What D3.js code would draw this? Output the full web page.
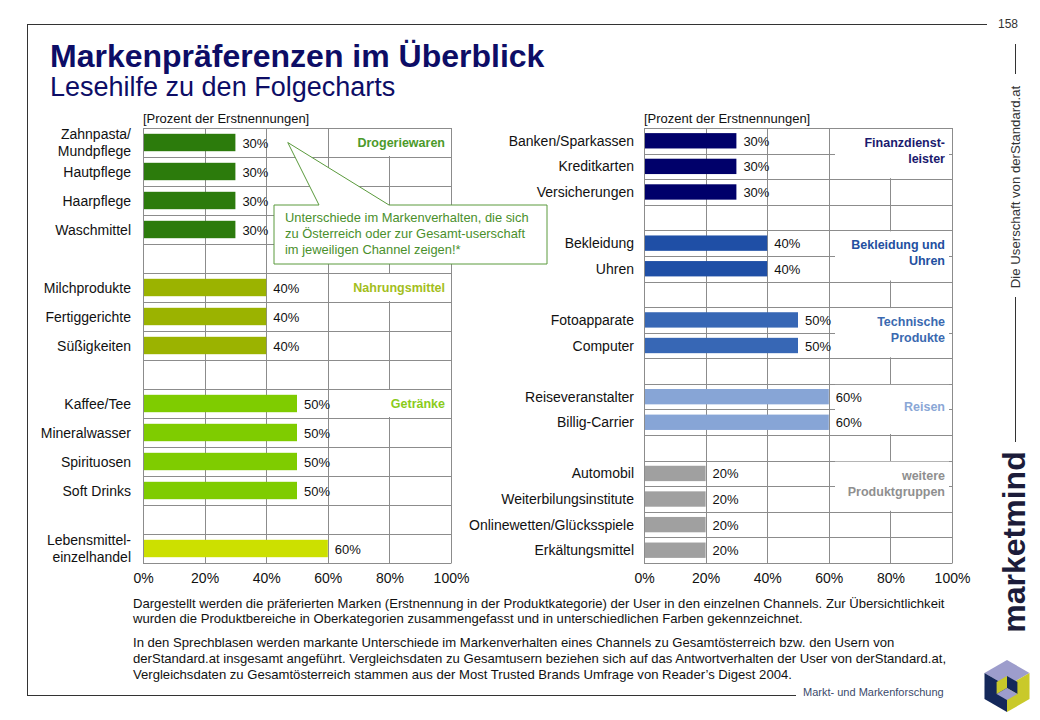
<!DOCTYPE html>
<html><head><meta charset="utf-8">
<script src="https://cdn.jsdelivr.net/npm/d3@7"></script>
<style>body{margin:0;background:#fff} svg{display:block;font-family:Arial,"Liberation Sans",sans-serif}</style>
</head><body>
<svg id="c" width="1040" height="720"></svg>
<script>
// ---------- DATA ----------
const axisTicks = [0, 20, 40, 60, 80, 100];
const unitLabel = "[Prozent der Erstnennungen]";

const leftCategories = ["Zahnpasta/|Mundpflege","Hautpflege","Haarpflege","Waschmittel","_gap1",
  "Milchprodukte","Fertiggerichte","Süßigkeiten","_gap2",
  "Kaffee/Tee","Mineralwasser","Spirituosen","Soft Drinks","_gap3","Lebensmittel-|einzelhandel"];
const leftValues = [30,30,30,30,null,40,40,40,null,50,50,50,50,null,60];
const leftRowGroup = ["drog","drog","drog","drog",null,"nahr","nahr","nahr",null,"getr","getr","getr","getr",null,"leh"];
const leftGroupNames = ["drog","nahr","getr"];
const leftGroupTitles = [["Drogeriewaren"],["Nahrungsmittel"],["Getränke"]];

const rightCategories = ["Banken/Sparkassen","Kreditkarten","Versicherungen","_gap1",
  "Bekleidung","Uhren","_gap2","Fotoapparate","Computer","_gap3",
  "Reiseveranstalter","Billig-Carrier","_gap4",
  "Automobil","Weiterbilungsinstitute","Onlinewetten/Glücksspiele","Erkältungsmittel"];
const rightValues = [30,30,30,null,40,40,null,50,50,null,60,60,null,20,20,20,20];
const rightRowGroup = ["fin","fin","fin",null,"bek","bek",null,"tech","tech",null,"reis","reis",null,"weit","weit","weit","weit"];
const rightGroupNames = ["fin","bek","tech","reis","weit"];
const rightGroupTitles = [["Finanzdienst-","leister"],["Bekleidung und","Uhren"],["Technische","Produkte"],["Reisen"],["weitere","Produktgruppen"]];

const calloutLines = ["Unterschiede im Markenverhalten,  die sich","zu Österreich oder zur Gesamt-userschaft","im jeweiligen Channel  zeigen!*"];
const footerLines = [
  "Dargestellt werden die präferierten Marken  (Erstnennung in der Produktkategorie) der User in den einzelnen  Channels.  Zur Übersichtlichkeit",
  "wurden die Produktbereiche in Oberkategorien zusammengefasst und in unterschiedlichen Farben gekennzeichnet.",
  "In den Sprechblasen werden markante Unterschiede im Markenverhalten  eines Channels zu Gesamtösterreich bzw. den Usern von",
  "derStandard.at insgesamt angeführt. Vergleichsdaten zu Gesamtusern beziehen sich auf das Antwortverhalten der User von derStandard.at,",
  "Vergleichsdaten zu Gesamtösterreich stammen aus der Most Trusted Brands Umfrage von Reader’s Digest 2004."
];

// ---------- STYLE ----------
const barColor = {drog:"#2c7b0c", nahr:"#9bb300", getr:"#7fcc00", leh:"#cce000",
  fin:"#00006a", bek:"#1f4fa6", tech:"#3767b5", reis:"#87a5d6", weit:"#a0a0a0"};
const labelColor = {drog:"#4c9a2a", nahr:"#a3be1c", getr:"#8acb1a",
  fin:"#1a1a6e", bek:"#234fa0", tech:"#3a69b0", reis:"#8aa7d6", weit:"#8f8f8f"};
const gridColor = "#8c8c8c";

const svg = d3.select("#c");

// frame & header
svg.append("line").attr("x1",27).attr("x2",987).attr("y1",24.5).attr("y2",24.5).attr("stroke","#333");
svg.append("line").attr("x1",27.5).attr("x2",27.5).attr("y1",24).attr("y2",695).attr("stroke","#333");
svg.append("line").attr("x1",27).attr("x2",796).attr("y1",695.5).attr("y2",695.5).attr("stroke","#333");
svg.append("text").attr("x",1008).attr("y",28).attr("text-anchor","middle").attr("font-size",12).attr("fill","#333").text("158");
svg.append("line").attr("x1",1015.5).attr("x2",1015.5).attr("y1",44).attr("y2",74).attr("stroke","#333");
svg.append("line").attr("x1",1015.5).attr("x2",1015.5).attr("y1",297).attr("y2",442).attr("stroke","#333");
svg.append("text").attr("transform","translate(1020,187) rotate(-90)").attr("text-anchor","middle")
  .attr("font-size",13.2).attr("fill","#333").text("Die Userschaft von derStandard.at");
svg.append("text").attr("transform","translate(1025,542) rotate(-90)").attr("text-anchor","middle")
  .attr("font-size",32).attr("font-weight","bold").attr("fill","#1c1c3a").text("marketmind");
svg.append("text").attr("x",803).attr("y",696).attr("font-size",11).attr("fill","#3b4a6b").text("Markt- und Markenforschung");

// logo
(function(){
  const cx=1007, cy=686, R=26, r=12;
  const P=(a,rr,dy=0)=>[cx+rr*Math.cos(a*Math.PI/180), cy+dy+rr*Math.sin(a*Math.PI/180)];
  const T=P(-90,R),UR=P(-30,R),LR=P(30,R),B=P(90,R),LL=P(150,R),UL=P(210,R),C=[cx,cy];
  const poly=(pts,f)=>svg.append("polygon").attr("points",pts.map(p=>p.join(",")).join(" ")).attr("fill",f);
  poly([T,UR,C,UL],"#9d9dcc");
  poly([UL,C,B,LL],"#14285a");
  poly([C,UR,LR,B],"#c9c92a");
  const t=P(-90,r,2),ur=P(-30,r,2),lr=P(30,r,2),b=P(90,r,2),ll=P(150,r,2),ul=P(210,r,2),c=[cx,cy+2];
  poly([c,t,ul,ll],"#c9c92a");
  poly([c,t,ur,lr],"#14285a");
  poly([c,ll,b,lr],"#9d9dcc");
})();

// titles
svg.append("text").attr("x",50).attr("y",67).attr("font-size",32).attr("font-weight","bold").attr("fill","#0d0d66").text("Markenpräferenzen im Überblick");
svg.append("text").attr("x",50).attr("y",96).attr("font-size",27).attr("fill","#0d0d66").text("Lesehilfe zu den Folgecharts");

// ---------- CHART FUNCTION ----------
function drawChart(opts){
  const {x0,x1,top,bottom,cats,vals,groups,gNames,gTitles,gSpan,labelRight,boxX0,boxX1} = opts;
  const g = svg.append("g");
  const x = d3.scaleLinear().domain([0,100]).range([x0,x1]);
  const y = d3.scaleBand().domain(cats).range([top,bottom]).paddingInner(0.4).paddingOuter(0.2);
  const step = y.step();
  const rowTop = c => y(c) - step*0.2;

  g.append("text").attr("x",x0).attr("y",top-5).attr("font-size",13).attr("fill","#111").text(unitLabel);

  // grid
  const hk = d3.range(cats.length+1);
  g.selectAll(".hg").data(hk).join("line")
    .attr("x1",x0).attr("x2",x1).attr("y1",k=>Math.round(top+k*step)+0.5).attr("y2",k=>Math.round(top+k*step)+0.5)
    .attr("stroke",gridColor);
  g.selectAll(".vg").data(axisTicks).join("line")
    .attr("x1",d=>Math.round(x(d))+0.5).attr("x2",d=>Math.round(x(d))+0.5).attr("y1",top).attr("y2",bottom)
    .attr("stroke",gridColor);

  // group label boxes + labels
  gNames.forEach((gn,i)=>{
    const first = cats[groups.indexOf(gn)];
    const span = gSpan;
    const yy0 = rowTop(first);
    const h = step*span;
    g.append("rect").attr("x",boxX0).attr("y",yy0+1).attr("width",boxX1-boxX0).attr("height",h-2).attr("fill","#fff");
    const lines = gTitles[i];
    const cyy = yy0 + h/2 - (span===2?3:0);
    lines.forEach((ln,j)=>{
      g.append("text").attr("x",boxX1-4).attr("y",cyy + (j-(lines.length-1)/2)*16 + 4.5)
        .attr("text-anchor","end").attr("font-size",12.5).attr("font-weight","bold")
        .attr("fill",labelColor[gn]).text(ln);
    });
  });

  // bars
  const rows = cats.map((c,i)=>({c, v:vals[i], gr:groups[i]})).filter(d=>d.v!=null);
  g.selectAll(".bar").data(rows).join("rect")
    .attr("x",x(0)).attr("y",d=>y(d.c)).attr("width",d=>x(d.v)-x(0)).attr("height",y.bandwidth())
    .attr("fill",d=>barColor[d.gr]);
  g.selectAll(".val").data(rows).join("text")
    .attr("x",d=>x(d.v)+7).attr("y",d=>y(d.c)+y.bandwidth()/2+5)
    .attr("font-size",13).attr("fill","#111").text(d=>d.v+"%");

  // category labels
  rows.forEach(d=>{
    const parts = d.c.split("|");
    const cy = y(d.c)+y.bandwidth()/2;
    parts.forEach((p,j)=>{
      g.append("text").attr("x",labelRight).attr("y",cy+(j-(parts.length-1)/2)*16.5+5)
        .attr("text-anchor","end").attr("font-size",14).attr("fill","#111").text(p);
    });
  });

  // axis
  g.append("line").attr("x1",x0+0.5).attr("x2",x0+0.5).attr("y1",top).attr("y2",bottom).attr("stroke",gridColor);
  const ax = g.append("g").attr("transform",`translate(0,${bottom})`)
    .call(d3.axisBottom(x).tickValues(axisTicks).tickFormat(d=>d+"%").tickSize(0).tickPadding(10));
  ax.select(".domain").attr("stroke",gridColor);
  ax.selectAll("text").attr("font-size",14).attr("fill","#111").attr("font-family","Arial, 'Liberation Sans', sans-serif");
  return {x,y,step};
}

const L = drawChart({x0:143,x1:451,top:128,bottom:563,cats:leftCategories,vals:leftValues,groups:leftRowGroup,
  gNames:leftGroupNames,gTitles:leftGroupTitles,gSpan:1,labelRight:131,boxX0:340,boxX1:449});
const Rr = drawChart({x0:644,x1:952,top:128,bottom:563,cats:rightCategories,vals:rightValues,groups:rightRowGroup,
  gNames:rightGroupNames,gTitles:rightGroupTitles,gSpan:2,labelRight:634,boxX0:835,boxX1:949});

// callout
(function(){
  const tipX = L.x(47), tipY = L.y(leftCategories[0]) + L.y.bandwidth()/2;
  const bx0=274, bx1=547, by0=205, by1=264;
  const path = `M${bx0},${by0} L319,${by0} L${tipX},${tipY} L389,${by0} L${bx1},${by0} L${bx1},${by1} L${bx0},${by1} Z`;
  svg.append("path").attr("d",path).attr("fill","#fff").attr("stroke","#5a9a3c").attr("stroke-width",1);
  calloutLines.forEach((t,i)=>{
    svg.append("text").attr("x",285).attr("y",222+i*16).attr("font-size",12.9).attr("fill","#4a8f2c").text(t);
  });
})();

// footer
const fy = [608,623,647,663,679];
footerLines.forEach((t,i)=>{
  svg.append("text").attr("x",133).attr("y",fy[i]).attr("font-size",13.1).attr("fill","#111").text(t);
});
</script>
</body></html>
